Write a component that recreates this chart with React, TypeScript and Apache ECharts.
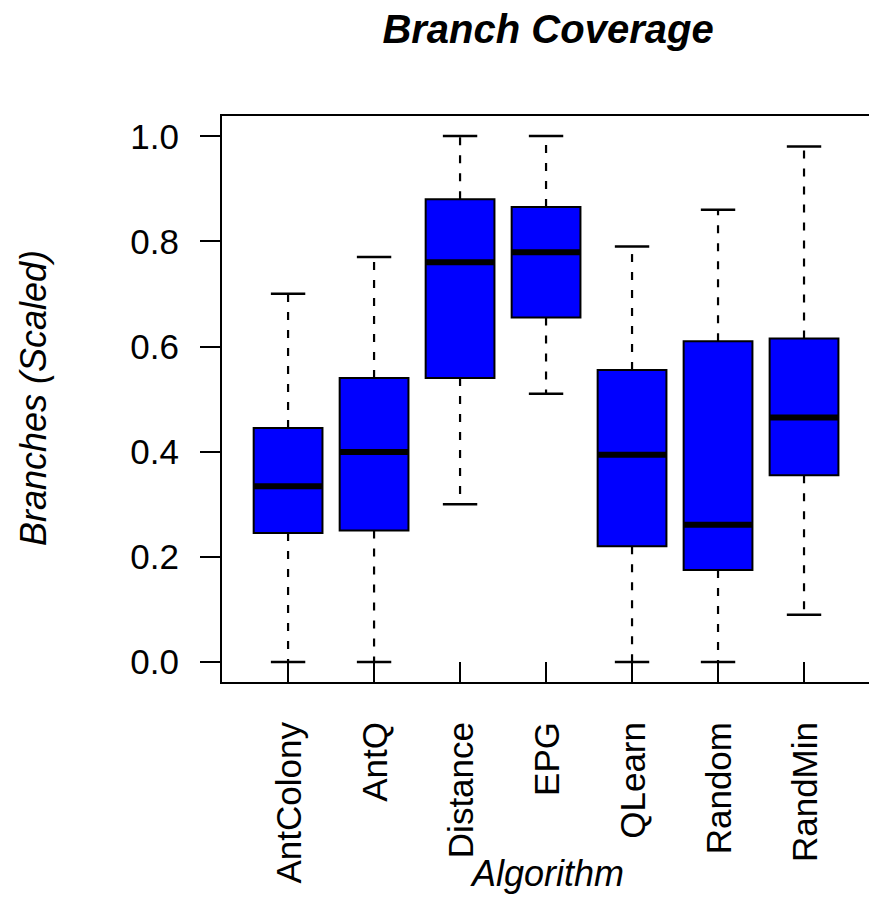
import React, { useEffect, useRef } from "react";
import * as echarts from "echarts";

const categories = ["AntColony", "AntQ", "Distance", "EPG", "QLearn", "Random", "RandMin"];
const lowerWhisker = [0.0, 0.0, 0.30, 0.51, 0.0, 0.0, 0.09];
const q1 = [0.245, 0.25, 0.54, 0.655, 0.22, 0.175, 0.355];
const median = [0.334, 0.399, 0.76, 0.779, 0.394, 0.261, 0.465];
const q3 = [0.445, 0.54, 0.88, 0.865, 0.555, 0.61, 0.615];
const upperWhisker = [0.70, 0.77, 1.0, 1.0, 0.79, 0.86, 0.98];
const yTicks = [0, 0.2, 0.4, 0.6, 0.8, 1.0];
const xTicks = [1, 2, 3, 4, 5, 6, 7];

const FONT = "'Liberation Sans', Arial, Helvetica, sans-serif";

export default function App() {
  const ref = useRef<HTMLDivElement>(null);
  useEffect(() => {
    if (!ref.current) return;
    const chart = echarts.init(ref.current, null, { renderer: "svg" });
    const data = categories.map((_, i) => [
      i + 1,
      lowerWhisker[i],
      q1[i],
      median[i],
      q3[i],
      upperWhisker[i],
    ]);
    const renderItem = (params: any, api: any) => {
      const x = api.value(0);
      const lo = api.coord([x, api.value(1)]);
      const b1 = api.coord([x, api.value(2)]);
      const md = api.coord([x, api.value(3)]);
      const b3 = api.coord([x, api.value(4)]);
      const hi = api.coord([x, api.value(5)]);
      const bw = api.size([0.8, 0])[0];
      const cw = bw / 2;
      const cx = lo[0];
      const dash = { stroke: "#000", lineWidth: 2.2, lineDash: [8, 10] };
      const solid = { stroke: "#000", lineWidth: 2.5 };
      return {
        type: "group",
        children: [
          { type: "line", shape: { x1: cx, y1: b3[1], x2: cx, y2: hi[1] }, style: dash },
          { type: "line", shape: { x1: cx, y1: b1[1], x2: cx, y2: lo[1] }, style: dash },
          { type: "line", shape: { x1: cx - cw / 2, y1: hi[1], x2: cx + cw / 2, y2: hi[1] }, style: solid },
          { type: "line", shape: { x1: cx - cw / 2, y1: lo[1], x2: cx + cw / 2, y2: lo[1] }, style: solid },
          {
            type: "rect",
            shape: { x: cx - bw / 2, y: b3[1], width: bw, height: b1[1] - b3[1] },
            style: { fill: "#0000FF", stroke: "#000", lineWidth: 2 },
          },
          { type: "line", shape: { x1: cx - bw / 2, y1: md[1], x2: cx + bw / 2, y2: md[1] }, style: { stroke: "#000", lineWidth: 6 } },
        ],
      };
    };
    chart.setOption({
      animation: false,
      backgroundColor: "#fff",
      grid: {
        left: 221,
        top: 115,
        width: 663,
        height: 568,
        show: true,
        borderColor: "#000",
        borderWidth: 2,
        backgroundColor: "transparent",
        containLabel: false,
        outerBoundsMode: "none",
      },
      xAxis: {
        type: "value",
        min: 0.22,
        max: 7.93,
        splitLine: { show: false },
        axisLine: { show: false },
        axisTick: {
          show: true,
          inside: false,
          length: 21,
          customValues: xTicks,
          lineStyle: { color: "#000", width: 2 },
        },
        axisLabel: {
          show: true,
          customValues: xTicks,
          formatter: (v: number) => categories[Math.round(v) - 1] ?? "",
          rotate: 90,
          margin: 39,
          fontSize: 35,
          fontFamily: FONT,
          color: "#000",
        },
      },
      yAxis: {
        type: "value",
        min: -0.04,
        max: 1.04,
        splitLine: { show: false },
        axisLine: { show: false },
        axisTick: {
          show: true,
          inside: false,
          length: 21,
          customValues: yTicks,
          lineStyle: { color: "#000", width: 2 },
        },
        axisLabel: {
          show: true,
          customValues: yTicks,
          formatter: (v: number) => v.toFixed(1),
          margin: 42,
          fontSize: 35,
          fontFamily: FONT,
          color: "#000",
        },
      },
      graphic: [
        {
          type: "text",
          x: 548,
          y: 29,
          style: {
            text: "Branch Coverage",
            font: `italic bold 40px ${FONT}`,
            fill: "#000",
            textAlign: "center",
            textVerticalAlign: "middle",
          },
        },
        {
          type: "text",
          x: 548,
          y: 873,
          style: {
            text: "Algorithm",
            font: `italic 36px ${FONT}`,
            fill: "#000",
            textAlign: "center",
            textVerticalAlign: "middle",
          },
        },
        {
          type: "text",
          x: 33,
          y: 398,
          rotation: Math.PI / 2,
          style: {
            text: "Branches (Scaled)",
            font: `italic 36px ${FONT}`,
            fill: "#000",
            textAlign: "center",
            textVerticalAlign: "middle",
          },
        },
      ],
      series: [
        {
          type: "custom",
          renderItem,
          data,
          encode: { x: 0, y: [1, 2, 3, 4, 5] },
          clip: false,
        },
      ],
    });
    return () => chart.dispose();
  }, []);
  return (
    <div
      ref={ref}
      style={{ position: "fixed", left: 0, top: 0, width: 869, height: 901 }}
    />
  );
}
